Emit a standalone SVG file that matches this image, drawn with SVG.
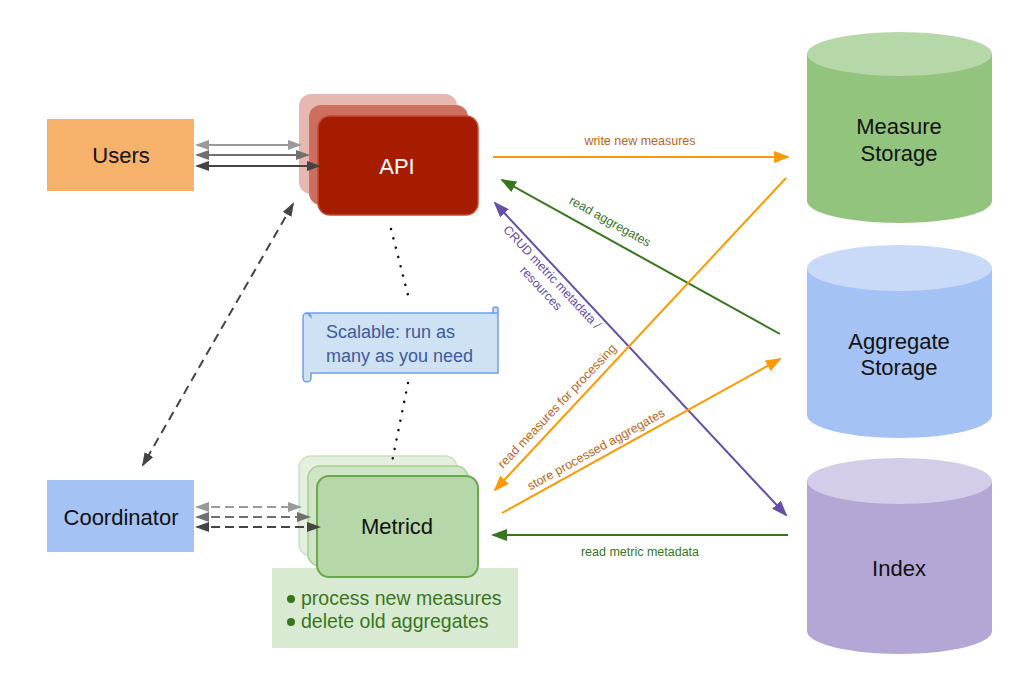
<svg xmlns="http://www.w3.org/2000/svg" width="1030" height="687" viewBox="0 0 1030 687">
<style>
text{font-family:"Liberation Sans",Arial,sans-serif}
.big{font-size:22px;fill:#111;text-anchor:middle}
.lbl{font-size:12.5px;text-anchor:middle}
.or{fill:#b8661a}
.gr{fill:#38761d}
.pu{fill:#674ea7}
.ln{fill:none;stroke-width:2}
</style>
<defs>
<marker id="mOr" viewBox="0 0 16 12" refX="14" refY="6" markerWidth="16" markerHeight="12" markerUnits="userSpaceOnUse" orient="auto-start-reverse"><path d="M0,0 L16,6 L0,12 z" fill="#ff9900"/></marker>
<marker id="mGr" viewBox="0 0 16 12" refX="14" refY="6" markerWidth="16" markerHeight="12" markerUnits="userSpaceOnUse" orient="auto-start-reverse"><path d="M0,0 L16,6 L0,12 z" fill="#38761d"/></marker>
<marker id="mPu" viewBox="0 0 16 12" refX="14" refY="6" markerWidth="16" markerHeight="12" markerUnits="userSpaceOnUse" orient="auto-start-reverse"><path d="M0,0 L16,6 L0,12 z" fill="#674ea7"/></marker>
<marker id="mG1" viewBox="0 0 14 10" refX="12" refY="5" markerWidth="14" markerHeight="10" markerUnits="userSpaceOnUse" orient="auto-start-reverse"><path d="M0,0 L14,5 L0,10 z" fill="#9a9a9a"/></marker>
<marker id="mG2" viewBox="0 0 14 10" refX="12" refY="5" markerWidth="14" markerHeight="10" markerUnits="userSpaceOnUse" orient="auto-start-reverse"><path d="M0,0 L14,5 L0,10 z" fill="#707070"/></marker>
<marker id="mG3" viewBox="0 0 14 10" refX="12" refY="5" markerWidth="14" markerHeight="10" markerUnits="userSpaceOnUse" orient="auto-start-reverse"><path d="M0,0 L14,5 L0,10 z" fill="#444444"/></marker>
</defs>
<rect width="1030" height="687" fill="#ffffff"/>

<g id="users">
<rect x="47" y="119" width="147" height="72" fill="#f6b26b"/>
<text class="big" x="121" y="163">Users</text>
</g>

<g id="coordinator">
<rect x="47" y="480" width="147" height="72" fill="#a4c2f4"/>
<text class="big" x="121" y="525">Coordinator</text>
</g>

<g id="api">
<rect x="299" y="94" width="158" height="100" rx="12" fill="#e6b8af"/>
<rect x="309" y="105" width="159" height="100" rx="12" fill="#cc6f5e"/>
<rect x="318" y="116" width="160" height="99" rx="12" fill="#a61c00" stroke="#c64a33" stroke-width="1.5"/>
<text class="big" x="397" y="174" style="fill:#ffffff">API</text>
</g>

<g id="metricd-note">
<rect x="272" y="568" width="246" height="80" fill="#d9ead3"/>
<circle cx="291" cy="599" r="4" fill="#38761d"/>
<circle cx="291" cy="622" r="4" fill="#38761d"/>
<text x="301" y="605" font-size="19.5" fill="#38761d">process new measures</text>
<text x="301" y="628" font-size="19.5" fill="#38761d">delete old aggregates</text>
</g>

<g id="metricd">
<rect x="299" y="456" width="158" height="100" rx="12" fill="#e4efdd" stroke="#cbe2c0" stroke-width="1.5"/>
<rect x="308" y="466" width="160" height="100" rx="12" fill="#d0e5c6" stroke="#a6cd94" stroke-width="1.5"/>
<rect x="317" y="476" width="161" height="101" rx="12" fill="#b6d7a8" stroke="#6aa84f" stroke-width="2"/>
<text class="big" x="397" y="534" font-size="23">Metricd</text>
</g>

<g id="scalable-note">
<path d="M307,313 L493,313 L493,308 A4,4 0 0 1 498,308 L498,373 L311,373 L311,378 A4,4 0 0 1 303,378 L303,317 A4,4 0 0 1 311,317 Z" fill="#cfe2f3" stroke="#6d9eeb" stroke-width="1.5"/>
<path d="M493,313 L498,313" stroke="#6d9eeb" stroke-width="1.5"/>
<text x="326" y="338" font-size="18" fill="#3d5b9a">Scalable: run as</text>
<text x="326" y="362" font-size="18" fill="#3d5b9a">many as you need</text>
</g>

<g id="measure-storage">
<path d="M807,54 L807,201 A92.5,22 0 0 0 992,201 L992,54 Z" fill="#93c47d"/>
<ellipse cx="899.5" cy="54" rx="92.5" ry="22" fill="#b6d7a8"/>
<text class="big" x="899" y="134" font-size="22.5">Measure</text>
<text class="big" x="899" y="161" font-size="22.5">Storage</text>
</g>

<g id="aggregate-storage">
<path d="M807,268 L807,415 A92.5,23 0 0 0 992,415 L992,268 Z" fill="#a4c2f4"/>
<ellipse cx="899.5" cy="268" rx="92.5" ry="23" fill="#c9daf8"/>
<text class="big" x="899" y="349">Aggregate</text>
<text class="big" x="899" y="375">Storage</text>
</g>

<g id="index">
<path d="M807,481 L807,631 A92.5,23 0 0 0 992,631 L992,481 Z" fill="#b4a7d6"/>
<ellipse cx="899.5" cy="481" rx="92.5" ry="23" fill="#d4cdea"/>
<text class="big" x="899" y="576">Index</text>
</g>

<g id="connectors">
<line x1="197" y1="145" x2="300" y2="145" class="ln" stroke="#9a9a9a" marker-start="url(#mG1)" marker-end="url(#mG1)"/>
<line x1="197" y1="155" x2="308" y2="155" class="ln" stroke="#707070" marker-start="url(#mG2)" marker-end="url(#mG2)"/>
<line x1="197" y1="166" x2="319" y2="166" class="ln" stroke="#444444" marker-start="url(#mG3)" marker-end="url(#mG3)"/>
<line x1="197" y1="507" x2="300" y2="507" class="ln" stroke="#9a9a9a" stroke-dasharray="9 5" marker-start="url(#mG1)" marker-end="url(#mG1)"/>
<line x1="197" y1="517" x2="309" y2="517" class="ln" stroke="#707070" stroke-dasharray="9 5" marker-start="url(#mG2)" marker-end="url(#mG2)"/>
<line x1="197" y1="527" x2="319" y2="527" class="ln" stroke="#444444" stroke-dasharray="9 5" marker-start="url(#mG3)" marker-end="url(#mG3)"/>
<line x1="293" y1="204" x2="143" y2="465" class="ln" stroke="#444444" stroke-width="2.5" stroke-dasharray="9 6" marker-start="url(#mG3)" marker-end="url(#mG3)"/>
<line x1="391" y1="229" x2="410" y2="303" stroke="#111" stroke-width="2.5" stroke-linecap="round" stroke-dasharray="0.1 9.5"/>
<line x1="408" y1="383" x2="392" y2="462" stroke="#111" stroke-width="2.5" stroke-linecap="round" stroke-dasharray="0.1 9.5"/>

<line x1="493" y1="157" x2="788" y2="157" class="ln" stroke="#ff9900" stroke-width="2.5" marker-end="url(#mOr)"/>
<text class="lbl or" x="640" y="145">write new measures</text>
<line x1="780" y1="334" x2="502" y2="180" class="ln" stroke="#38761d" stroke-width="2.5" marker-end="url(#mGr)"/>
<text class="lbl gr" transform="translate(608,225) rotate(29)">read aggregates</text>
<line x1="495" y1="203" x2="786" y2="515" class="ln" stroke="#674ea7" stroke-width="2.5" marker-start="url(#mPu)" marker-end="url(#mPu)"/>
<text class="lbl pu" transform="translate(549,280) rotate(47)">CRUD metric metadata /</text>
<text class="lbl pu" transform="translate(538,291) rotate(47)">resources</text>
<line x1="786" y1="178" x2="495" y2="490" class="ln" stroke="#ff9900" stroke-width="2.5" marker-end="url(#mOr)"/>
<text class="lbl or" transform="translate(560,409) rotate(-46.5)">read measures for processing</text>
<line x1="502" y1="513" x2="780" y2="359" class="ln" stroke="#ff9900" stroke-width="2.5" marker-end="url(#mOr)"/>
<text class="lbl or" transform="translate(598,453) rotate(-29)">store processed aggregates</text>
<line x1="788" y1="535" x2="493" y2="535" class="ln" stroke="#38761d" stroke-width="2.5" marker-end="url(#mGr)"/>
<text class="lbl gr" x="640" y="556">read metric metadata</text>
</g>
</svg>
